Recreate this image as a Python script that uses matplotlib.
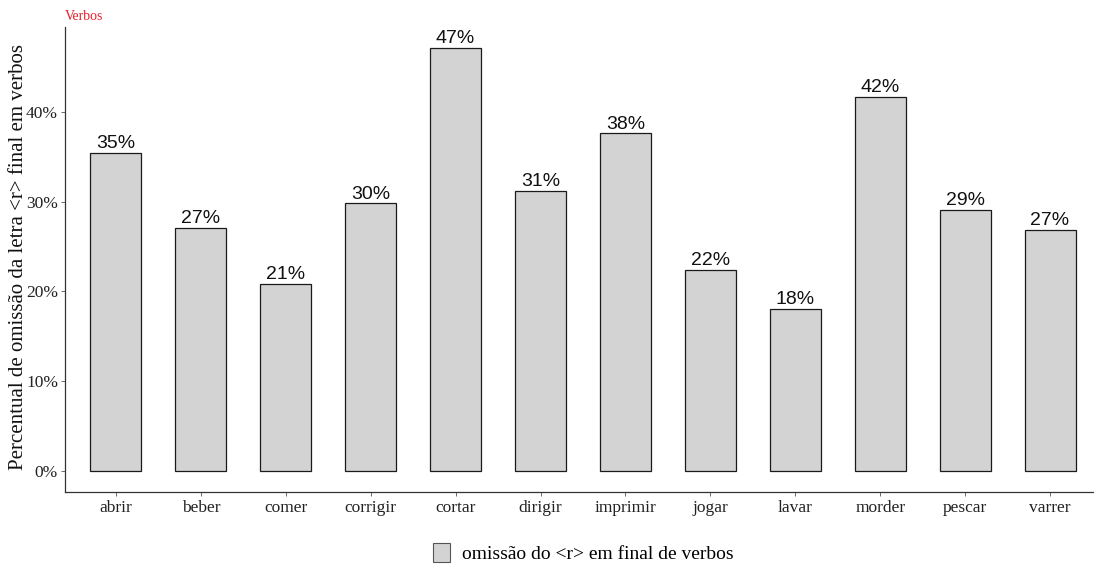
import matplotlib
matplotlib.use("Agg")
import matplotlib.pyplot as plt
from matplotlib.patches import Patch

verbos = ["abrir", "beber", "comer", "corrigir", "cortar", "dirigir",
          "imprimir", "jogar", "lavar", "morder", "pescar", "varrer"]
omissao = [35.4, 27.1, 20.8, 29.8, 47.1, 31.2, 37.6, 22.4, 18.0, 41.7, 29.1, 26.8]
yticks = [0, 10, 20, 30, 40]
ytick_labels = ["0%", "10%", "20%", "30%", "40%"]

W, H = 1094, 567
fig = plt.figure(figsize=(W / 100, H / 100), dpi=100)
left, right, bottom, top = 65, 1101, 492, 27
ax = fig.add_axes([left / W, 1 - bottom / H, (right - left) / W, (bottom - top) / H])

serif = "Liberation Serif"
sans = "Liberation Sans"

x = list(range(1, len(verbos) + 1))
ax.bar(x, omissao, width=0.6, color="#d3d3d3", edgecolor="#1a1a1a", linewidth=0.9, zorder=2)
for xi, v in zip(x, omissao):
    ax.text(xi, v + 0.1, f"{round(v):.0f}%", ha="center", va="bottom",
            fontsize=14, family=sans, color="#111111")

ymax = max(omissao)
ax.set_xlim(0.4, len(verbos) + 0.6)
ax.set_ylim(-0.05 * ymax, ymax * 1.05)
ax.set_xticks(x)
ax.set_xticklabels(verbos, family=serif, fontsize=12.5, color="#222222")
ax.set_yticks(yticks)
ax.set_yticklabels(ytick_labels, family=serif, fontsize=12.5, color="#222222")
ax.tick_params(axis="x", length=3, width=0.6, color="#555555", pad=3)
ax.tick_params(axis="y", length=3, width=0.6, color="#555555", pad=2)

for s in ["top", "right"]:
    ax.spines[s].set_visible(False)
for s in ["left", "bottom"]:
    ax.spines[s].set_color("#333333")
    ax.spines[s].set_linewidth(0.9)

fig.text(19 / W, 1 - 257 / H, "Percentual de omissão da letra <r> final em verbos",
         family=serif, fontsize=15, color="#111111", rotation=90,
         ha="center", va="center")
fig.text(65 / W, 1 - 16 / H, "Verbos", family=serif, fontsize=10,
         color="#e8202a", ha="left", va="center")

handle = Patch(facecolor="#d3d3d3", edgecolor="#555555", linewidth=0.8)
fig.legend([handle], ["omissão do <r> em final de verbos"], loc="center",
           bbox_to_anchor=(0.533, 1 - 553 / H), frameon=False,
           prop={"family": serif, "size": 14}, handlelength=0.9, handleheight=1.1,
           handletextpad=0.6)

fig.savefig("out.png", dpi=100)
